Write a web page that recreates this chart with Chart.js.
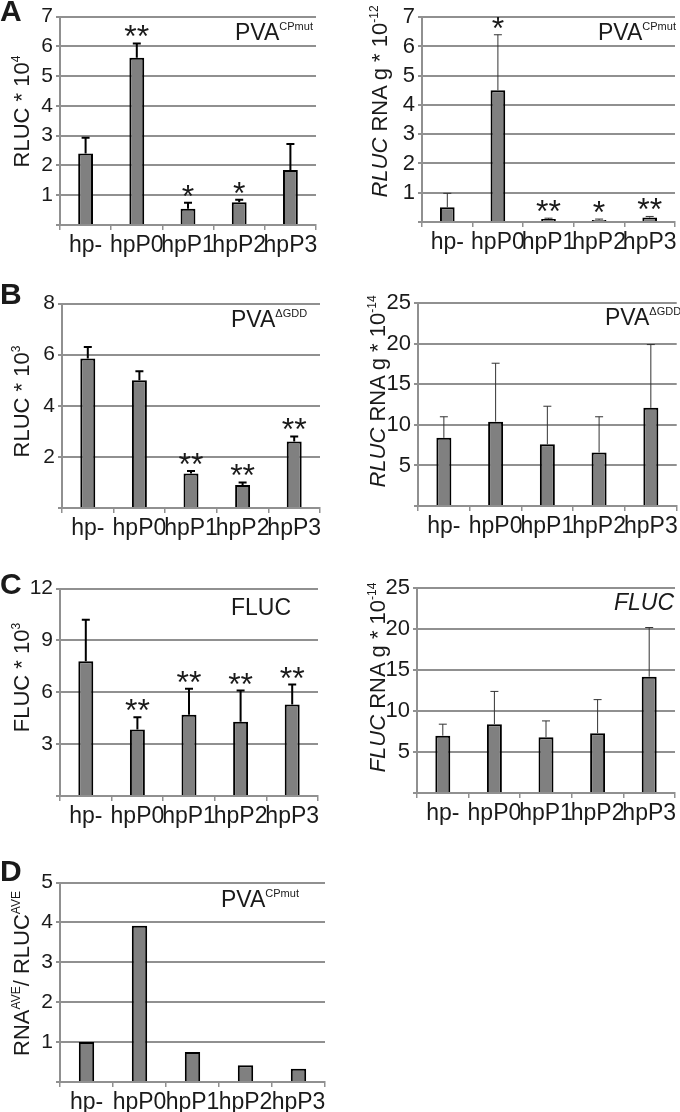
<!DOCTYPE html>
<html>
<head>
<meta charset="utf-8">
<script src="https://cdn.jsdelivr.net/npm/chart.js@4"></script>
<style>
  body { margin: 0; background: #fff; font-family: 'Liberation Sans', Arial, sans-serif; color: #1a1a1a; }
  #page { position: relative; width: 680px; height: 1112px; overflow: hidden; }
  .box { position: absolute; }
  .lbl { position: absolute; white-space: nowrap; line-height: 1; }
  .letter { font-weight: bold; font-size: 30px; }
  .ytitle { position: absolute; width: 260px; text-align: center; font-size: 22px; line-height: 22px; white-space: nowrap; transform: rotate(-90deg); }
  .sup { font-size: 11px; position: relative; top: -10px; }
  .tsup { font-size: 12px; position: relative; top: -9px; }
</style>
</head>
<body>
<div id="page"></div>
<script>
// categories and values
const categories = ['hp-', 'hpP0', 'hpP1', 'hpP2', 'hpP3'];

// A: PVA CPmut
const rlucCpmut = [2.4, 5.62, 0.55, 0.76, 1.85];
const rlucCpmutErr = [0.53, 0.48, 0.2, 0.09, 0.87];
const rlucCpmutStars = ['', '**', '*', '*', ''];
const rnaCpmut = [0.5, 4.5, 0.1, 0.07, 0.15];
const rnaCpmutErr = [0.48, 1.9, 0.03, 0.03, 0.04];
const rnaCpmutStars = ['', '*', '**', '*', '**'];

// B: PVA dGDD
const rlucGdd = [5.85, 5.0, 1.35, 0.9, 2.6];
const rlucGddErr = [0.45, 0.35, 0.1, 0.1, 0.2];
const rlucGddStars = ['', '', '**', '**', '**'];
const rnaGdd = [8.4, 10.4, 7.6, 6.6, 12.1];
const rnaGddErr = [2.6, 7.2, 4.7, 4.4, 7.8];

// C: FLUC
const flucLum = [7.8, 3.85, 4.7, 4.3, 5.3];
const flucLumErr = [2.4, 0.7, 1.5, 1.8, 1.15];
const flucLumStars = ['', '**', '**', '**', '**'];
const flucRna = [7.0, 8.4, 6.8, 7.3, 14.2];
const flucRnaErr = [1.4, 4.0, 2.0, 4.1, 6.0];

// D: ratio
const ratioCpmut = [1.0, 3.92, 0.75, 0.42, 0.33];

const FONT = "'Liberation Sans', Arial, sans-serif";
Chart.defaults.font.family = FONT;
Chart.defaults.color = '#1a1a1a';

const page = document.getElementById('page');

// error bars + significance stars
const errorBars = {
  id: 'errorBars',
  afterDatasetsDraw(chart) {
    const ds = chart.data.datasets[0];
    const meta = chart.getDatasetMeta(0);
    const y = chart.scales.y;
    const ctx = chart.ctx;
    ctx.save();
    meta.data.forEach((bar, i) => {
      let top = bar.y;
      if (ds.errors) {
        top = y.getPixelForValue(ds.data[i] + ds.errors[i]);
        ctx.strokeStyle = ds.thinErr ? '#333' : '#000';
        ctx.lineWidth = ds.thinErr ? 1 : 2;
        ctx.beginPath();
        ctx.moveTo(bar.x, bar.y);
        ctx.lineTo(bar.x, top);
        ctx.moveTo(bar.x - 4, top);
        ctx.lineTo(bar.x + 4, top);
        ctx.stroke();
      }
      if (ds.stars && ds.stars[i]) {
        ctx.fillStyle = '#1a1a1a';
        ctx.font = '32px ' + FONT;
        ctx.textAlign = 'center';
        ctx.textBaseline = 'alphabetic';
        ctx.fillText(ds.stars[i], bar.x, top + 4);
      }
    });
    ctx.restore();
  }
};

function makePanel(p) {
  const padTop = 14;
  const xH = 42;
  const y0 = p.top - padTop;
  const w = p.w;
  const h = p.bottom - y0 + xH;
  const box = document.createElement('div');
  box.className = 'box';
  box.style.left = p.x0 + 'px';
  box.style.top = y0 + 'px';
  const cv = document.createElement('canvas');
  cv.width = w; cv.height = h;
  cv.style.width = w + 'px'; cv.style.height = h + 'px';
  box.appendChild(cv);
  page.appendChild(box);

  new Chart(cv.getContext('2d'), {
    type: 'bar',
    data: {
      labels: categories,
      datasets: [{
        data: p.values,
        errors: p.errors,
        stars: p.stars,
        thinErr: p.thin,
        backgroundColor: '#808080',
        borderColor: '#000',
        borderWidth: 2,
        barPercentage: 0.29,
        categoryPercentage: 1
      }]
    },
    options: {
      responsive: false,
      animation: false,
      devicePixelRatio: 1,
      layout: { padding: { top: padTop, right: p.x0 + w - p.right, bottom: 0, left: 0 } },
      plugins: { legend: { display: false }, tooltip: { enabled: false } },
      scales: {
        x: {
          offset: true,
          grid: { display: true, drawOnChartArea: false, offset: true, color: '#909090', lineWidth: 1.5, tickLength: 5 },
          border: { color: '#909090', width: 2 },
          ticks: { font: { size: 23 }, autoSkip: false, maxRotation: 0, padding: 2, color: '#1a1a1a' },
          afterFit: s => { s.height = xH; }
        },
        y: {
          min: 0, max: p.max,
          grid: { color: '#909090', lineWidth: 2, tickLength: 4 },
          border: { color: '#909090', width: 2 },
          ticks: {
            stepSize: p.step, autoSkip: false, font: { size: p.tickSize }, padding: 3, color: '#1a1a1a',
            callback: v => v === 0 ? '' : v
          },
          afterFit: s => { s.width = p.axisX - p.x0; }
        }
      }
    },
    plugins: [errorBars]
  });
}

function addText(cls, html, left, top, style) {
  const d = document.createElement('div');
  d.className = cls;
  d.innerHTML = html;
  d.style.left = left + 'px';
  d.style.top = top + 'px';
  if (style) Object.assign(d.style, style);
  page.appendChild(d);
  return d;
}

function addYTitle(html, cx, cy) {
  addText('ytitle', html, cx - 130, cy - 11);
}

const panels = [
  { x0: 0, w: 340, top: 15, bottom: 225, axisX: 60, right: 316, max: 7, step: 1, tickSize: 21,
    values: rlucCpmut, errors: rlucCpmutErr, stars: rlucCpmutStars, thin: false },
  { x0: 340, w: 340, top: 15, bottom: 222, axisX: 422, right: 675, max: 7, step: 1, tickSize: 22,
    values: rnaCpmut, errors: rnaCpmutErr, stars: rnaCpmutStars, thin: true },
  { x0: 0, w: 340, top: 302, bottom: 508, axisX: 62, right: 320, max: 8, step: 2, tickSize: 21,
    values: rlucGdd, errors: rlucGddErr, stars: rlucGddStars, thin: false },
  { x0: 340, w: 340, top: 301, bottom: 506, axisX: 418, right: 677, max: 25, step: 5, tickSize: 22,
    values: rnaGdd, errors: rnaGddErr, stars: null, thin: true },
  { x0: 0, w: 340, top: 587, bottom: 796, axisX: 60, right: 318, max: 12, step: 3, tickSize: 21,
    values: flucLum, errors: flucLumErr, stars: flucLumStars, thin: false },
  { x0: 340, w: 340, top: 586, bottom: 793, axisX: 417, right: 675, max: 25, step: 5, tickSize: 22,
    values: flucRna, errors: flucRnaErr, stars: null, thin: true },
  { x0: 0, w: 340, top: 881, bottom: 1082, axisX: 60, right: 325, max: 5, step: 1, tickSize: 21,
    values: ratioCpmut, errors: null, stars: null, thin: false }
];
panels.forEach(makePanel);

// panel letters
addText('lbl letter', 'A', 0, -4);
addText('lbl letter', 'B', 0, 279);
addText('lbl letter', 'C', 0, 569);
addText('lbl letter', 'D', 0, 856);

// labels inside the plots
const big = { fontSize: '23px' };
addText('lbl', 'PVA<span class="sup">CPmut</span>', 235, 21, big);
addText('lbl', 'PVA<span class="sup">CPmut</span>', 598, 21, big);
addText('lbl', 'PVA<span class="sup">ΔGDD</span>', 231, 308, big);
addText('lbl', 'PVA<span class="sup">ΔGDD</span>', 605, 306, big);
addText('lbl', 'FLUC', 231, 596, { fontSize: '23px' });
addText('lbl', '<i>FLUC</i>', 614, 591, { fontSize: '23px' });
addText('lbl', 'PVA<span class="sup">CPmut</span>', 221, 888, big);

// y axis titles
addYTitle('RLUC * 10<span class="tsup">4</span>', 23, 110);
addYTitle('<i>RLUC</i> RNA g * 10<span class="tsup">-12</span>', 381, 100);
addYTitle('RLUC * 10<span class="tsup">3</span>', 23, 400);
addYTitle('<i>RLUC</i> RNA g * 10<span class="tsup">-14</span>', 379, 390);
addYTitle('FLUC * 10<span class="tsup">3</span>', 23, 676);
addYTitle('<i>FLUC</i> RNA g * 10<span class="tsup">-14</span>', 379, 676);
addYTitle('RNA<span class="tsup">AVE</span>/ RLUC<span class="tsup">AVE</span>', 23, 972);
</script>
</body>
</html>
